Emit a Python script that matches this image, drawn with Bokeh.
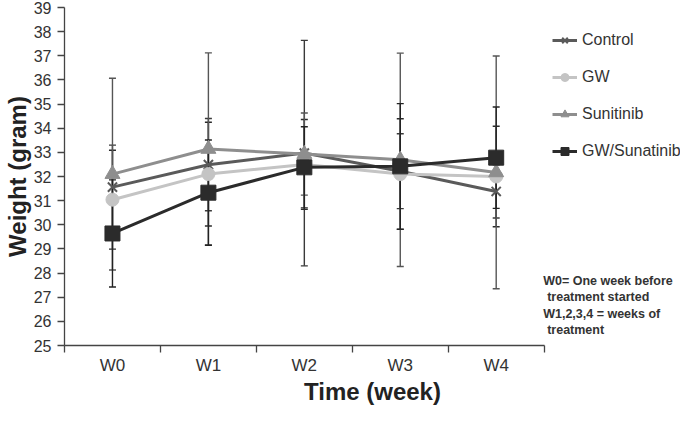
from bokeh.plotting import figure
from bokeh.models import (FixedTicker, Whisker, ColumnDataSource, Legend, LegendItem,
                          Label, TeeHead, Range1d, LinearAxis)
from bokeh.embed import file_html
from bokeh.resources import INLINE

# ---- data ----
weeks = ["W0", "W1", "W2", "W3", "W4"]
y_ticks = list(range(25, 40))
series_names = ["Control", "GW", "Sunitinib", "GW/Sunatinib"]
control = [31.56, 32.49, 32.97, 32.22, 31.38]
control_sd = [1.74, 1.91, 4.67, 1.55, 1.10]
gw = [31.04, 32.10, 32.50, 32.10, 32.00]
gw_sd = [2.05, 2.15, 1.86, 2.29, 2.08]
sunitinib = [32.10, 33.14, 32.93, 32.69, 32.17]
sunitinib_sd = [3.97, 3.98, 1.70, 4.42, 4.82]
gw_sun = [29.64, 31.33, 32.38, 32.42, 32.78]
gw_sun_sd = [2.22, 2.18, 1.68, 2.60, 2.10]
notes = ["W0= One week before", "treatment started", "W1,2,3,4 = weeks of", "treatment"]

means = [control, gw, sunitinib, gw_sun]
sds = [control_sd, gw_sd, sunitinib_sd, gw_sun_sd]
colors = ["#5a5a5a", "#c4c4c4", "#8e8e8e", "#2b2b2b"]
markers = ["x", "circle", "triangle", "square"]
msizes = [13, 13, 15, 15]
err_colors = ["#3a3a3a", "#2a2a2a", "#555555", "#222222"]

xs = list(range(len(weeks)))
YMIN, YMAX = 25, 39

W, H = 680, 408
FRAME_L, FRAME_T, FRAME_B = 61, 7, 63
PX_PER_CAT = 96.4
frame_w = W - FRAME_L
frame_h = H - FRAME_T - FRAME_B
x_end = -0.5 + frame_w / PX_PER_CAT

p = figure(width=W, height=H, output_backend="svg", toolbar_location=None,
           x_range=Range1d(-0.5, x_end), y_range=Range1d(YMIN, YMAX),
           min_border_left=FRAME_L, min_border_right=0,
           min_border_top=FRAME_T, min_border_bottom=FRAME_B)
p.xgrid.grid_line_color = None
p.ygrid.grid_line_color = None
p.outline_line_color = None
p.background_fill_color = "white"

axis_col = "#444444"
lab_col = "#333333"
title_col = "#222222"

# x axis (category labels, boundary tick marks)
xa = p.xaxis[0]
xa.bounds = (-0.5, len(weeks) - 0.5)
xa.ticker = FixedTicker(ticks=xs, minor_ticks=[i - 0.5 for i in range(len(weeks) + 1)])
xa.major_label_overrides = {i: w for i, w in zip(xs, weeks)}
xa.major_tick_out = 0
xa.major_tick_in = 0
xa.minor_tick_out = 7
xa.minor_tick_in = 0
xa.minor_tick_line_color = axis_col
xa.minor_tick_line_width = 1.3
xa.axis_line_color = axis_col
xa.axis_line_width = 1.3
xa.major_label_text_font = "Liberation Sans"
xa.major_label_text_font_size = "17px"
xa.major_label_text_color = lab_col
xa.major_label_standoff = 3

# second bottom axis only carrying the title, slightly right of centre like the reference
ta = LinearAxis(ticker=FixedTicker(ticks=[]), bounds=(-0.25, len(weeks) - 0.25),
                axis_line_color=None, major_tick_line_color=None, minor_tick_line_color=None,
                major_tick_out=0, minor_tick_out=0, major_label_standoff=0,
                axis_label="Time (week)", axis_label_standoff=0,
                axis_label_text_baseline="alphabetic",
                axis_label_text_font="Liberation Sans", axis_label_text_font_style="bold",
                axis_label_text_font_size="24px", axis_label_text_color=title_col)
p.add_layout(ta, "below")

# y axis
ya = p.yaxis[0]
ya.ticker = FixedTicker(ticks=y_ticks, minor_ticks=[])
ya.major_tick_out = 7
ya.major_tick_in = 0
ya.major_tick_line_color = axis_col
ya.major_tick_line_width = 1.3
ya.axis_line_color = axis_col
ya.axis_line_width = 1.3
ya.major_label_text_font = "Liberation Sans"
ya.major_label_text_font_size = "16px"
ya.major_label_text_color = lab_col
ya.major_label_standoff = 6
ya.axis_label = "Weight (gram)"
ya.axis_label_standoff = 0
ya.axis_label_text_font = "Liberation Sans"
ya.axis_label_text_font_style = "bold"
ya.axis_label_text_font_size = "24px"
ya.axis_label_text_color = title_col

# error bars
for m, s, ec in zip(means, sds, err_colors):
    src = ColumnDataSource(dict(x=xs, upper=[a + b for a, b in zip(m, s)],
                                lower=[a - b for a, b in zip(m, s)]))
    wk = Whisker(source=src, base="x", upper="upper", lower="lower", dimension="height",
                 line_color=ec, line_width=1.4,
                 upper_head=TeeHead(size=7, line_color=ec, line_width=1.4),
                 lower_head=TeeHead(size=7, line_color=ec, line_width=1.4))
    p.add_layout(wk)

# series
items = []
for name, m, c, mk, ms in zip(series_names, means, colors, markers, msizes):
    lr = p.line(xs, m, line_color=c, line_width=3)
    if mk == "x":
        sr = p.scatter(xs, m, marker="x", size=ms, line_color=c, line_width=2)
    else:
        sr = p.scatter(xs, m, marker=mk, size=ms, fill_color=c, line_color=c, line_width=1)
    items.append(LegendItem(label=name, renderers=[lr, sr]))

legend = Legend(items=items, location=(488, 184), orientation="vertical",
                glyph_width=25, glyph_height=20, label_height=20, spacing=17,
                padding=0, margin=0, border_line_alpha=0, background_fill_alpha=0,
                label_text_font="Liberation Sans", label_text_font_size="16px",
                label_text_color=lab_col, label_standoff=5)
p.add_layout(legend)

# page pixel -> data coordinate helpers for the note text
PX_X0 = 8 + FRAME_L
PX_Y0 = 8 + FRAME_T
def dx(px):
    return -0.5 + (px - PX_X0) / PX_PER_CAT
def dy(py):
    return YMAX - (py - PX_Y0) / frame_h * (YMAX - YMIN)

note_pos = [(550, 288), (554, 304), (550, 321), (554, 337)]
for t, (px, py) in zip(notes, note_pos):
    p.add_layout(Label(x=dx(px), y=dy(py), text=t, text_align="left", text_baseline="middle",
                       text_font="Liberation Sans", text_font_style="bold",
                       text_font_size="12.5px", text_color="#333333"))

open("out.html", "w").write(file_html(p, INLINE))
